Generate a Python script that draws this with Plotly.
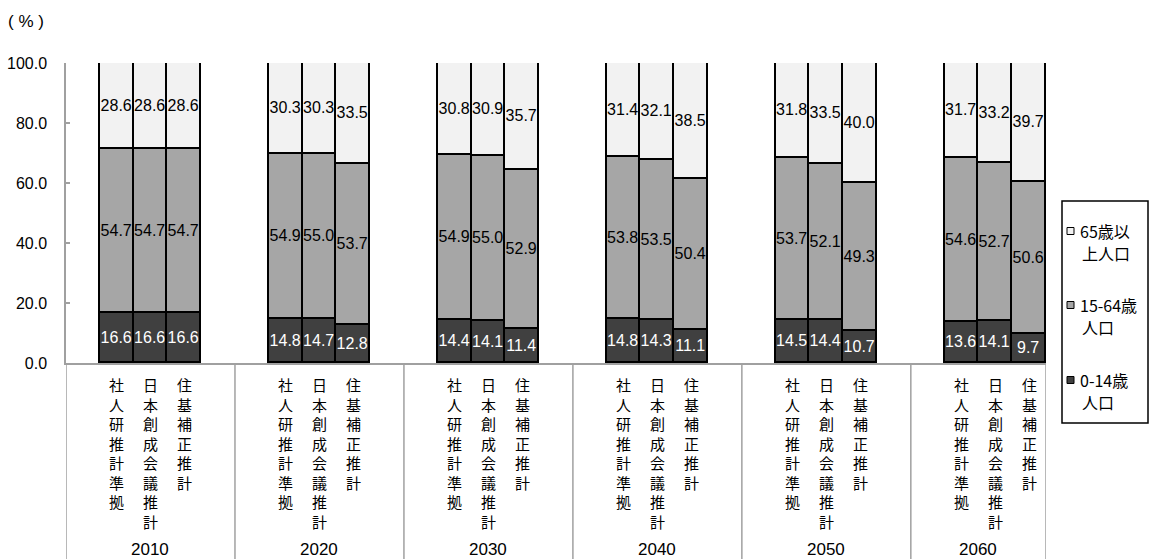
import plotly.graph_objects as go

# ---------------- data ----------------
years = ["2010", "2020", "2030", "2040", "2050", "2060"]
methods = ["社人研推計準拠", "日本創成会議推計", "住基補正推計"]

age_0_14 = [
    [16.6, 16.6, 16.6],
    [14.8, 14.7, 12.8],
    [14.4, 14.1, 11.4],
    [14.8, 14.3, 11.1],
    [14.5, 14.4, 10.7],
    [13.6, 14.1, 9.7],
]
age_15_64 = [
    [54.7, 54.7, 54.7],
    [54.9, 55.0, 53.7],
    [54.9, 55.0, 52.9],
    [53.8, 53.5, 50.4],
    [53.7, 52.1, 49.3],
    [54.6, 52.7, 50.6],
]
age_65_plus = [
    [28.6, 28.6, 28.6],
    [30.3, 30.3, 33.5],
    [30.8, 30.9, 35.7],
    [31.4, 32.1, 38.5],
    [31.8, 33.5, 40.0],
    [31.7, 33.2, 39.7],
]
series_names = ["0-14歳人口", "15-64歳人口", "65歳以上人口"]
legend_lines = [["65歳以", "上人口"], ["15-64歳", "人口"], ["0-14歳", "人口"]]
y_ticks = [0, 20, 40, 60, 80, 100]
unit_label = "( % )"

# ---------------- styling ----------------
W, H = 1149, 559
L, R, T, B = 66, 103, 63, 196
PW, PH = W - L - R, H - T - B
BAR_W = 0.2
X_MIN = -0.5
X_MAX = len(years) - 1 + 1.5 * BAR_W
FILL = {"0-14歳人口": "#404040", "15-64歳人口": "#a6a6a6", "65歳以上人口": "#f2f2f2"}
TXT = {"0-14歳人口": "#ffffff", "15-64歳人口": "#000000", "65歳以上人口": "#000000"}
GRID_GREY = "#a0a0a0"
NUM_FONT = "Liberation Sans, Arial, Noto Sans CJK JP"
JP_FONT = "Noto Sans CJK JP, Liberation Sans"


def px_x(px):
    return (px - L) / PW


def px_y(py):
    return (H - B - py) / PH


xs = []
for gi in range(len(years)):
    for mj in range(len(methods)):
        xs.append(gi + (mj - 1) * BAR_W)

fig = go.Figure()
for name, data in zip(series_names, [age_0_14, age_15_64, age_65_plus]):
    vals = [v for grp in data for v in grp]
    fig.add_trace(go.Bar(
        x=xs, y=vals, width=BAR_W, name=name,
        marker=dict(color=FILL[name], line=dict(color="#000000", width=1.6)),
        text=[f"{v:.1f}" for v in vals],
        textposition="inside", insidetextanchor="middle", textangle=0,
        constraintext="none",
        textfont=dict(family=NUM_FONT, size=16, color=TXT[name]),
        showlegend=False,
        hovertemplate="%{y:.1f}<extra>" + name + "</extra>",
    ))

shapes = []
annotations = []

# category box dividers
for gi in range(len(years)):
    shapes.append(dict(type="line", xref="x", yref="paper",
                       x0=gi - 0.5, x1=gi - 0.5, y0=0, y1=px_y(H + 5),
                       line=dict(color=GRID_GREY, width=1.5)))
shapes.append(dict(type="line", xref="x", yref="paper",
                   x0=X_MAX, x1=X_MAX, y0=0, y1=px_y(H + 5),
                   line=dict(color=GRID_GREY, width=1.5)))

# method labels (vertical) and year labels
for gi, yr in enumerate(years):
    for mj, m in enumerate(methods):
        annotations.append(dict(
            x=gi + (mj - 1) * BAR_W, y=px_y(372), xref="x", yref="paper",
            text="<br>".join(list(m)), showarrow=False,
            xanchor="center", yanchor="top",
            font=dict(family=JP_FONT, size=15, color="#000000")))
    left = gi - 0.5
    right = min(gi + 0.5, X_MAX)
    annotations.append(dict(
        x=(left + right) / 2, y=px_y(549), xref="x", yref="paper",
        text=yr, showarrow=False, xanchor="center", yanchor="middle",
        font=dict(family=NUM_FONT, size=17, color="#000000")))

# unit label
annotations.append(dict(
    x=px_x(6), y=px_y(21), xref="paper", yref="paper", text=unit_label,
    showarrow=False, xanchor="left", yanchor="middle",
    font=dict(family=NUM_FONT, size=17, color="#000000")))

# manual legend
shapes.append(dict(type="rect", xref="paper", yref="paper", layer="below",
                   x0=px_x(1062), x1=px_x(1148), y0=px_y(423), y1=px_y(201),
                   line=dict(color="#000000", width=1.5), fillcolor="#ffffff"))
legend_rows = [231, 305, 380]
for lines, name, row in zip(legend_lines, series_names[::-1], legend_rows):
    shapes.append(dict(type="rect", xref="paper", yref="paper",
                       x0=px_x(1067), x1=px_x(1074), y0=px_y(row + 3.5), y1=px_y(row - 3.5),
                       line=dict(color="#000000", width=1), fillcolor=FILL[name]))
    for k, line in enumerate(lines):
        annotations.append(dict(
            x=px_x(1078) if k == 0 else px_x(1080), y=px_y(row + 22 * k),
            xref="paper", yref="paper", text=line,
            showarrow=False, xanchor="left", yanchor="middle", align="left",
            font=dict(family=JP_FONT, size=16, color="#000000")))

fig.update_layout(
    width=W, height=H,
    margin=dict(l=L, r=R, t=T, b=B, pad=0, autoexpand=False),
    barmode="stack", bargap=0,
    plot_bgcolor="#ffffff", paper_bgcolor="#ffffff",
    shapes=shapes, annotations=annotations,
    xaxis=dict(range=[X_MIN, X_MAX], showticklabels=False, ticks="",
               showgrid=False, zeroline=False, showline=True, automargin=False,
               linecolor=GRID_GREY, linewidth=1.5, fixedrange=True),
    yaxis=dict(range=[0, 100], tickvals=y_ticks, tickformat=".1f",
               ticks="inside", ticklen=4, tickcolor=GRID_GREY, tickwidth=1.5,
               showgrid=False, zeroline=False, showline=True, automargin=False,
               linecolor=GRID_GREY, linewidth=1.5, ticklabelstandoff=14,
               tickfont=dict(family=NUM_FONT, size=16, color="#000000"),
               fixedrange=True),
)

fig.write_html("out.html")
